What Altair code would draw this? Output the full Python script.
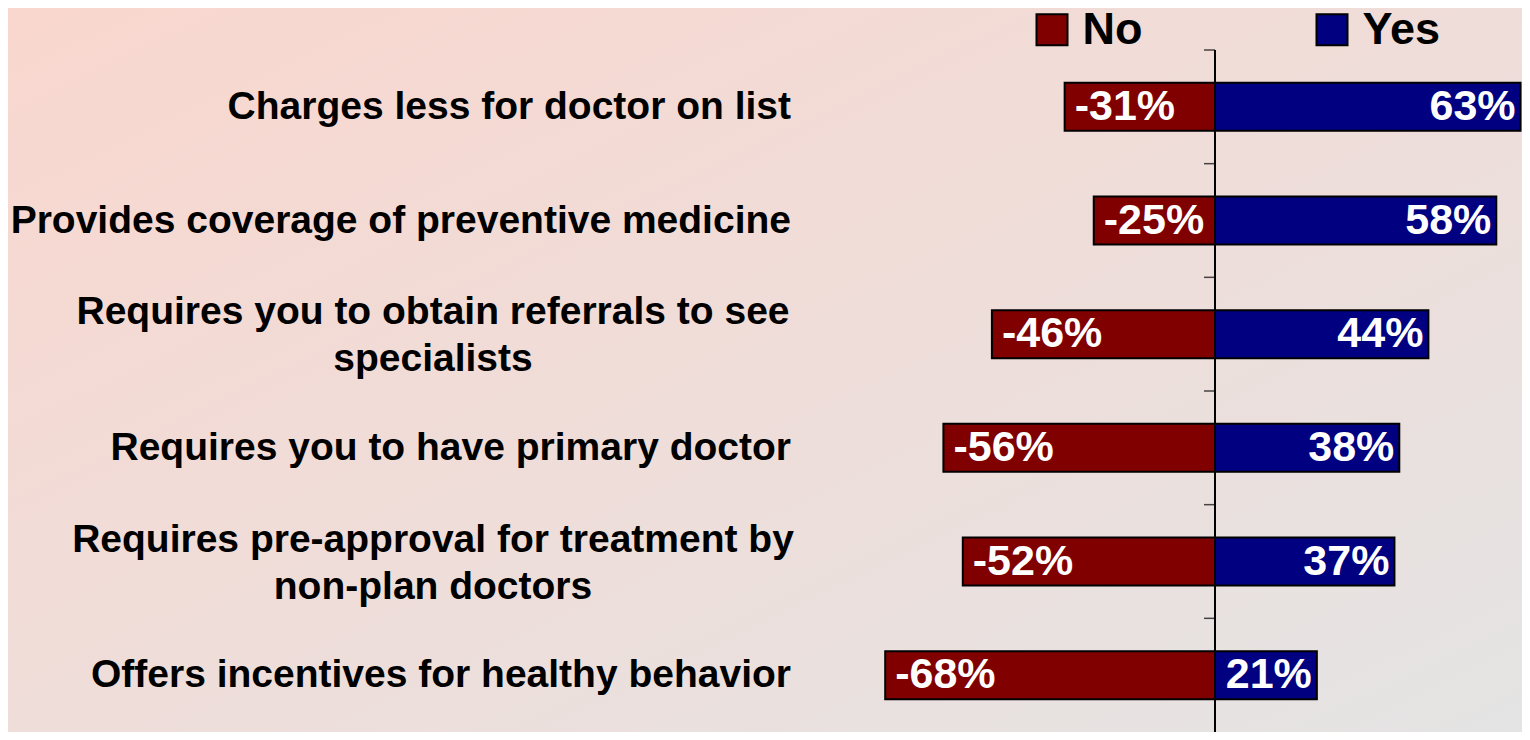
import altair as alt
import pandas as pd

categories = [
    "Charges less for doctor on list",
    "Provides coverage of preventive medicine",
    "Requires you to obtain referrals to see\nspecialists",
    "Requires you to have primary doctor",
    "Requires pre-approval for treatment by\nnon-plan doctors",
    "Offers incentives for healthy behavior",
]
no_values = [-31, -25, -46, -56, -52, -68]
yes_values = [63, 58, 44, 38, 37, 21]
responses = ["No", "Yes"]
colors = ["#800000", "#000080"]

rows = []
for c, n, y in zip(categories, no_values, yes_values):
    rows.append({"category": c, "response": "No", "value": n})
    rows.append({"category": c, "response": "Yes", "value": y})
df = pd.DataFrame(rows)

FONT = "Liberation Sans"
W, H = 646.5, 682
PL, PT = 867.5, 42

yscale = alt.Scale(paddingInner=0, paddingOuter=0)
xscale = alt.Scale(domain=[-70, 63.3], nice=False, zero=True)

multi = "indexof(datum.value, '\\n') >= 0"

label_axis = alt.Axis(
    orient="left", title=None, domain=False, ticks=False, grid=False,
    labelFont=FONT, labelFontSize=39, labelFontWeight="bold", labelColor="black",
    labelLimit=1000, labelLineHeight=47, labelOverlap=False,
    labelExpr="split(datum.label, '\\n')",
    labelAlign={"condition": {"test": multi, "value": "center"}, "value": "right"},
    labelPadding={"condition": {"test": multi, "value": 443}, "value": 85},
    labelOffset={"condition": {"test": multi, "value": -22}, "value": 0},
    zindex=2,
)

Y = alt.Y("category:N", sort=categories, scale=yscale, axis=label_axis)
X = alt.X("value:Q", scale=xscale, axis=None)

bg = alt.Chart(pd.DataFrame({"bg": [0]})).mark_rect(
    color=alt.Gradient(
        gradient="linear",
        stops=[alt.GradientStop(color="#F9D7CE", offset=0),
               alt.GradientStop(color="#EFDDD9", offset=0.5),
               alt.GradientStop(color="#E4E4E4", offset=1)],
        x1=0, y1=0, x2=1, y2=1,
    )
).encode(
    x=alt.value(-PL), x2=alt.value(W), y=alt.value(-PT), y2=alt.value(H)
)

base = alt.Chart(df)

bars = base.mark_bar(stroke="black", strokeWidth=2, height={"band": 0.4223}).encode(
    y=Y,
    x=X,
    color=alt.Color(
        "response:N",
        scale=alt.Scale(domain=responses, range=colors),
        legend=alt.Legend(
            title=None, orient="none", legendX=154, legendY=-43, direction="horizontal",
            symbolType="square", symbolSize=961, symbolStrokeColor="black",
            symbolStrokeWidth=2, symbolOpacity=1,
            labelFont=FONT, labelFontSize=45, labelFontWeight="bold", labelColor="black",
            labelOffset=8, columnPadding=167, padding=0, labelLimit=500,
        ),
    ),
)

txt_no = base.transform_filter("datum.response == 'No'").transform_calculate(
    lbl="datum.value + '%'"
).mark_text(
    align="left", baseline="middle", dx=10, font=FONT, fontSize=43,
    fontWeight="bold", color="white",
).encode(y=Y, x=X, text="lbl:N")

txt_yes = base.transform_filter("datum.response == 'Yes'").transform_calculate(
    lbl="datum.value + '%'"
).mark_text(
    align="right", baseline="middle", dx=-5, font=FONT, fontSize=43,
    fontWeight="bold", color="white",
).encode(y=Y, x=X, text="lbl:N")

zero_line = base.mark_rule(color="black", strokeWidth=1.5).encode(
    x=alt.datum(0),
)

ticks = base.transform_filter("datum.response == 'No'").mark_tick(
    orient="horizontal", size=11, thickness=1.5, color="black", xOffset=-5.5,
).encode(
    y=alt.Y("category:N", sort=categories, scale=yscale, bandPosition=0, axis=label_axis),
    x=alt.datum(0),
)

chart = alt.layer(bg, bars, txt_no, txt_yes, zero_line, ticks).properties(
    width=W, height=H,
    autosize=alt.AutoSizeParams(type="none"),
    padding={"left": PL, "top": PT, "right": 0, "bottom": 0},
    background="#EEDDD9",
).configure_view(stroke=None)

chart.save("out.html", embed_options={"renderer": "svg", "actions": False})
